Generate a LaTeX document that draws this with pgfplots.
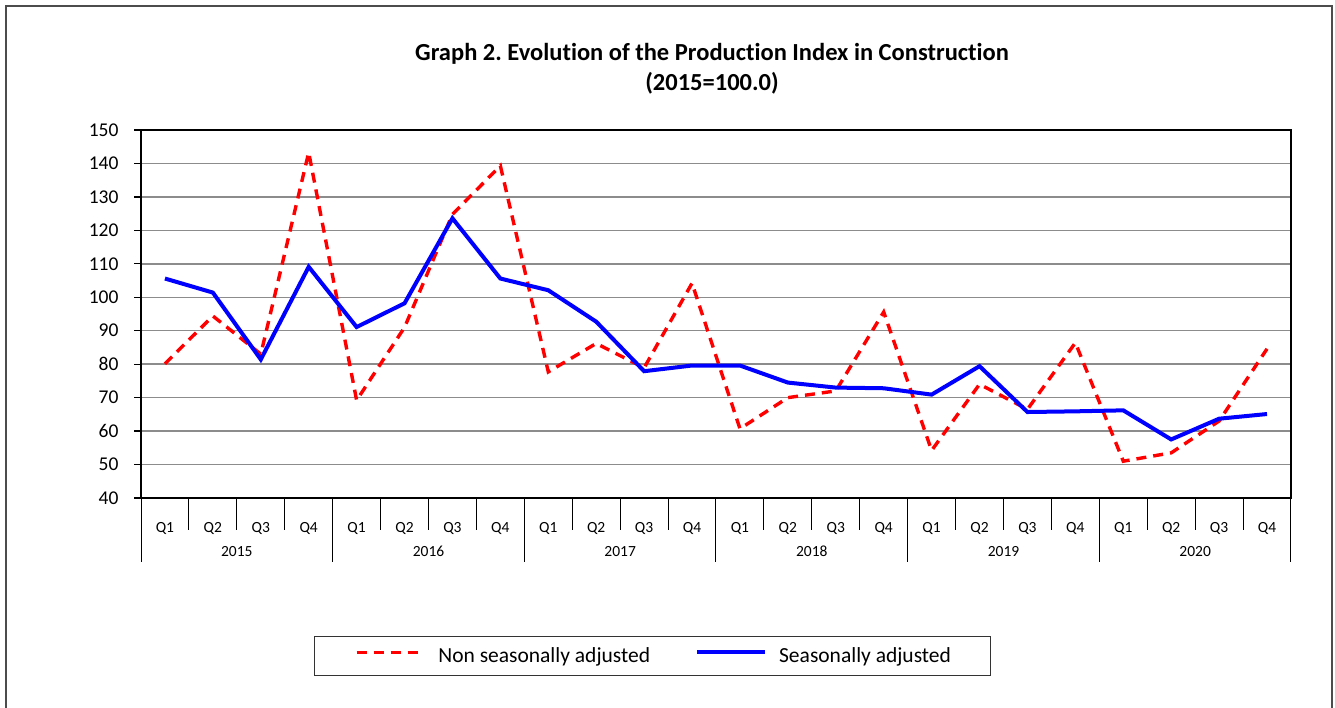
\documentclass[border=0pt]{standalone}
\usepackage{fontspec}
\setmainfont{Carlito}[Ligatures=NoCommon]
\usepackage{pgfplots}
\pgfplotsset{compat=1.18}
\definecolor{gridgray}{HTML}{8C8C8C}
\frenchspacing
\begin{document}
\begin{tikzpicture}
\path[use as bounding box] (0pt,0pt) rectangle (1335pt,708pt);
\draw[line width=2pt, color=black!70] (6pt,0pt) -- (6pt,702pt) -- (1332pt,702pt) -- (1332pt,0pt);
\node[font=\fontsize{24.5}{30}\selectfont\bfseries, align=center] at (712pt,639pt) {Graph 2. Evolution of the Production Index in Construction\\(2015=100.0)};
\begin{axis}[
  at={(141pt,210pt)}, anchor=south west, scale only axis,
  width=1150pt, height=368pt,
  xmin=0, xmax=24, ymin=40, ymax=150,
  ytick={40,50,...,150}, ytick pos=left,
  ymajorgrids, grid style={line width=1.5pt, color=gridgray},
  axis line style={line width=2pt, black},
  tick align=outside, major tick length=7pt,
  y tick style={line width=1.2pt, black},
  xtick={0.5,1.5,...,23.5},
  xticklabels={Q1,Q2,Q3,Q4,Q1,Q2,Q3,Q4,Q1,Q2,Q3,Q4,Q1,Q2,Q3,Q4,Q1,Q2,Q3,Q4,Q1,Q2,Q3,Q4},
  x tick style={draw=none},
  xticklabel style={font=\fontsize{15.5}{18}\selectfont, anchor=base, yshift=-28pt},
  yticklabel style={font=\fontsize{19.5}{24}\selectfont, xshift=-12pt},
  /pgf/number format/assume math mode=true,
  clip=false,
  legend style={at={(0.4452,-0.4293)}, anchor=center, draw=black!80, line width=1pt,
    font=\fontsize{21.5}{24}\selectfont, inner xsep=40pt, inner ysep=11pt,
    nodes={inner sep=0pt},
    /tikz/every odd column/.append style={column sep=12pt},
    /tikz/every even column/.append style={column sep=45pt}},
  legend columns=2,
  legend image code/.code={\draw[#1] (0pt,0.35em) -- (68pt,0.35em);},
]
\addplot[red, line width=3.4pt, dash pattern=on 10pt off 7pt] coordinates {
(0.5,80.1) (1.5,94.4) (2.5,83) (3.5,143.3)
(4.5,69.2) (5.5,91) (6.5,124.8) (7.5,139.3)
(8.5,77.7) (9.5,86.2) (10.5,78.9) (11.5,104.2)
(12.5,60.7) (13.5,70) (14.5,72) (15.5,95.6)
(16.5,54.2) (17.5,74) (18.5,66.5) (19.5,86.4)
(20.5,51) (21.5,53.5) (22.5,63) (23.5,84.6)};
\addlegendentry{Non seasonally adjusted}
\addplot[blue, line width=4pt] coordinates {
(0.5,105.6) (1.5,101.4) (2.5,81.4) (3.5,109.1)
(4.5,91.1) (5.5,98.2) (6.5,123.6) (7.5,105.6)
(8.5,102.1) (9.5,92.7) (10.5,77.9) (11.5,79.6)
(12.5,79.6) (13.5,74.5) (14.5,73) (15.5,72.8)
(16.5,70.9) (17.5,79.4) (18.5,65.7) (19.5,65.9)
(20.5,66.2) (21.5,57.5) (22.5,63.7) (23.5,65.1)};
\addlegendentry{Seasonally adjusted}
\pgfplotsinvokeforeach{1,2,3,5,6,7,9,10,11,13,14,15,17,18,19,21,22,23}{
  \draw[line width=1pt] (axis cs:#1,40) -- ++(0pt,-32pt);}
\pgfplotsinvokeforeach{0,4,8,12,16,20,24}{
  \draw[line width=1pt] (axis cs:#1,40) -- ++(0pt,-64pt);}
\pgfplotsinvokeforeach{0,1,2,3,4,5}{
  \node[font=\fontsize{15.5}{18}\selectfont, anchor=base] at ([yshift=-59pt]axis cs:{2+4*#1},40) {\pgfmathparse{int(2015+#1)}\pgfmathresult};}
\end{axis}
\end{tikzpicture}
\end{document}
